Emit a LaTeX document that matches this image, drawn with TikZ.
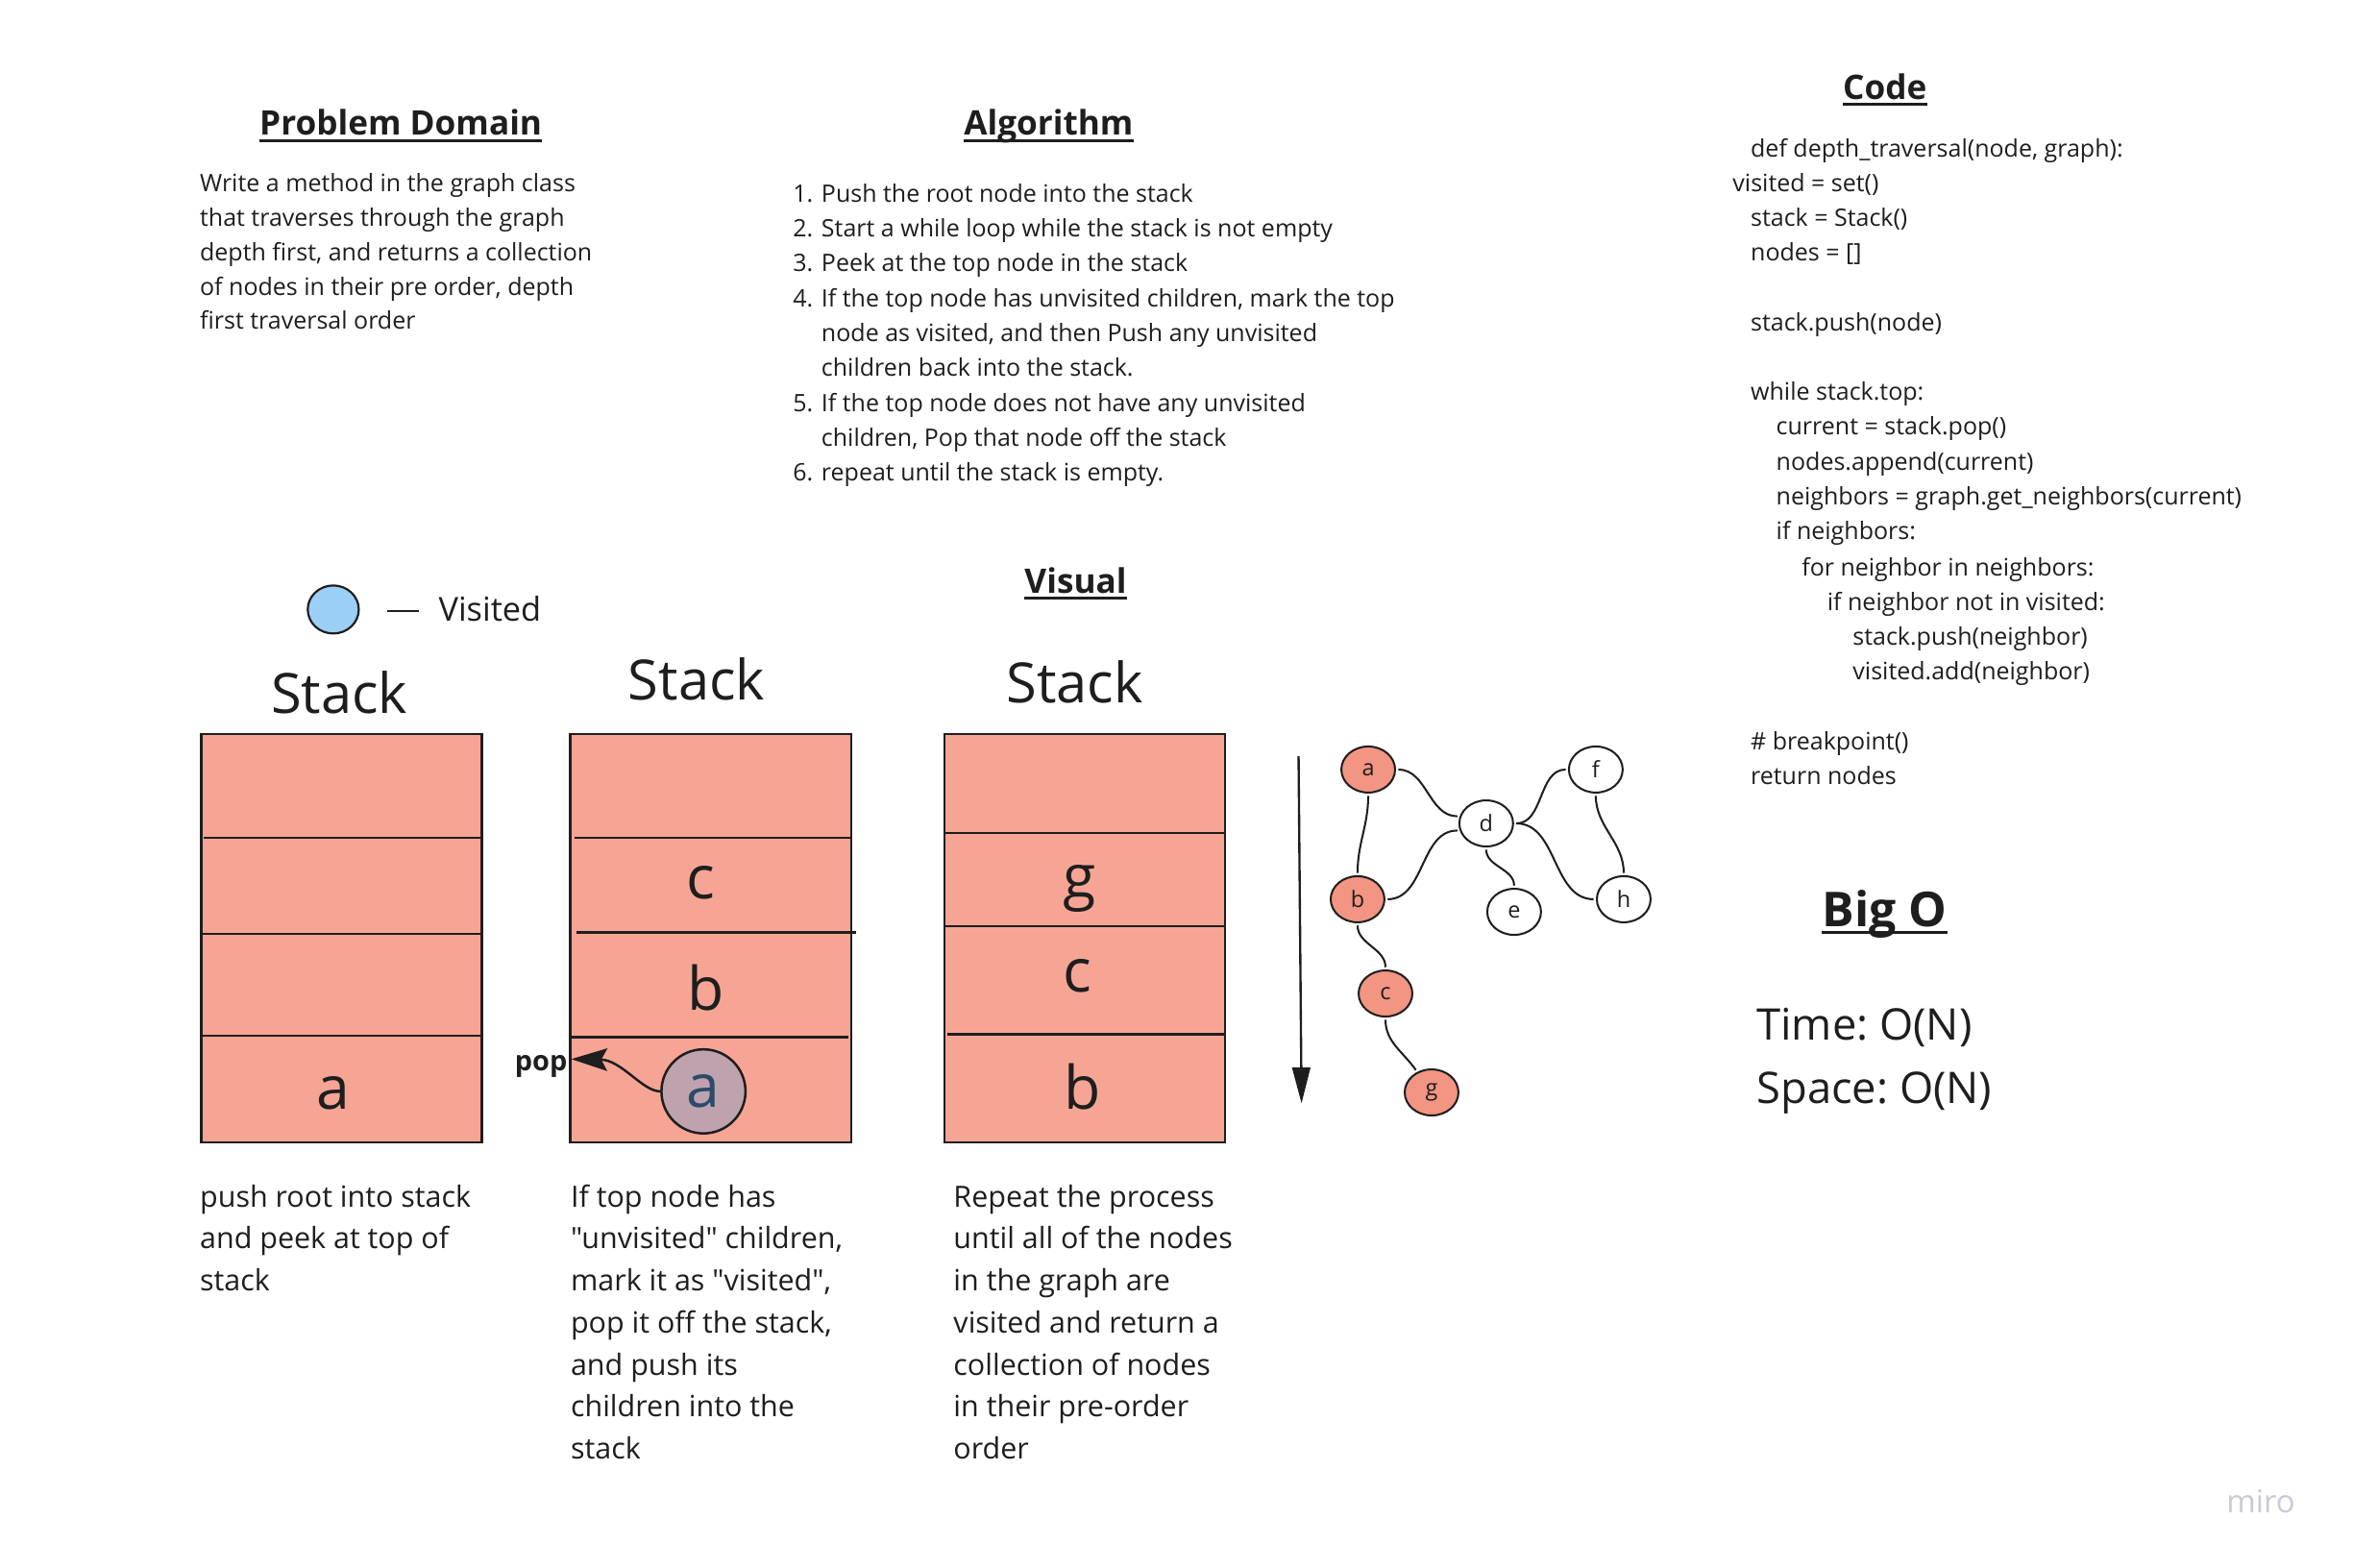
\documentclass[tikz,border=0pt]{standalone}
\usepackage{fontspec}
\setmainfont{Open Sans}[Ligatures=TeXOff]
\usetikzlibrary{arrows.meta,shapes.geometric}
\definecolor{stackfill}{HTML}{F6A595}
\definecolor{nodefill}{HTML}{F29582}
\definecolor{ink}{HTML}{1E1E1E}
\definecolor{visitfill}{HTML}{9CCFF5}
\definecolor{popfill}{HTML}{BEA3AF}
\definecolor{popink}{HTML}{2D4A68}
\definecolor{mirogray}{HTML}{C9CAD8}
\frenchspacing
\begin{document}
\begin{tikzpicture}[x=1pt,y=-1pt,
  body/.style={font=\fontsize{16}{19}\selectfont, anchor=base west, inner sep=0, text=ink},
  caption/.style={font=\fontsize{19.5}{23}\selectfont, anchor=base west, inner sep=0, text=ink},
  title/.style={font=\bfseries\fontsize{22.5}{27}\selectfont, anchor=base, inner sep=0, text=ink},
  uline/.style={draw=ink, line width=1.8},
  stacktitle/.style={font=\fontsize{37}{44}\selectfont, anchor=base, inner sep=0, text=ink},
  stackletter/.style={font=\fontsize{40}{48}\selectfont, anchor=base, inner sep=0, text=ink},
  stackbox/.style={draw=ink, fill=stackfill, line width=1.6, minimum width=187pt, minimum height=272pt, inner sep=0},
  divider/.style={draw=ink, line width=1.6},
  gnode/.style={ellipse, draw=ink, line width=1.3, minimum width=35.8pt, minimum height=30.7pt, inner sep=0, text=ink, font=\fontsize{15}{18}\selectfont},
  visited/.style={gnode, fill=nodefill},
  unvisited/.style={gnode, fill=white},
  gedge/.style={draw=ink, line width=1.3, shorten >=1.5pt, shorten <=1.5pt},
  bigtext/.style={font=\fontsize{29}{34}\selectfont, anchor=base west, inner sep=0, text=ink}
]
\useasboundingbox[fill=white] (0,0) rectangle (1567.4,1044.5);

% ---------- Titles ----------
\node[title] (tpd) at (267,90) {Problem Domain};
\draw[uline] ([yshift=-3.5pt]tpd.base west) -- ([yshift=-3.5pt]tpd.base east);
\node[title] (talg) at (698.5,90) {Algorithm};
\draw[uline] ([yshift=-3.5pt]talg.base west) -- ([yshift=-3.5pt]talg.base east);
\node[title] (tcode) at (1255.5,66) {Code};
\draw[uline] ([yshift=-3.5pt]tcode.base west) -- ([yshift=-3.5pt]tcode.base east);
\node[title] (tvis) at (716.5,395) {Visual};
\draw[uline] ([yshift=-3.5pt]tvis.base west) -- ([yshift=-3.5pt]tvis.base east);
\node[font=\bfseries\fontsize{32}{38}\selectfont, anchor=base, inner sep=0, text=ink] (tbig) at (1255.5,617) {Big O};
\draw[line width=2.2, draw=ink] ([yshift=-4pt]tbig.base west) -- ([yshift=-4pt]tbig.base east);

% ---------- Problem domain ----------
\foreach \t [count=\i] in {Write a method in the graph class, that traverses through the graph, {depth first, and returns a collection}, {of nodes in their pre order, depth}, first traversal order}
  \node[body] (pd\i) at (133,104.5+23*\i) {\t};

% ---------- Algorithm ----------
\foreach \n/\y in {1./134.5,2./157.5,3./180.5,4./204.5,5./274,6./320.5}
  \node[body] (an\y) at (528,\y) {\n};
\foreach \y/\t in {134.5/{Push the root node into the stack},
                   157.5/{Start a while loop while the stack is not empty},
                   180.5/{Peek at the top node in the stack},
                   204.5/{If the top node has unvisited children, mark the top},
                   227.5/{node as visited, and then Push any unvisited},
                   250.5/{children back into the stack.},
                   274/{If the top node does not have any unvisited},
                   297/{children, Pop that node off the stack},
                   320.5/{repeat until the stack is empty.}}
  \node[body] (al\y) at (547,\y) {\t};

% ---------- Code ----------
\foreach \x/\y/\t in {1166/104.5/{def depth\_traversal(node, graph):},
                      1154/127.5/{visited = set()},
                      1166/150.5/{stack = Stack()},
                      1166/173.5/{nodes = []},
                      1166/220.5/{stack.push(node)},
                      1166/266.5/{while stack.top:},
                      1183/289.5/{current = stack.pop()},
                      1183/313.5/{nodes.append(current)},
                      1183/336.5/{neighbors = graph.get\_neighbors(current)},
                      1183/359.5/{if neighbors:},
                      1200/383.5/{for neighbor in neighbors:},
                      1217/406.5/{if neighbor not in visited:},
                      1234/429.5/{stack.push(neighbor)},
                      1234/452.5/{visited.add(neighbor)},
                      1166/499.5/{\# breakpoint()},
                      1166/522.5/{return nodes}}
  \node[body] (cd\y) at (\x,\y) {\t};

% ---------- Big O ----------
\node[bigtext] (btime) at (1170,693) {Time: O(N)};
\node[bigtext] (bspace) at (1170,735) {Space: O(N)};

% ---------- Legend ----------
\node[ellipse, draw=ink, line width=1.4, fill=visitfill, minimum width=34pt, minimum height=32pt, inner sep=0] (leg) at (222,406) {};
\draw[draw=ink, line width=1.4] (258,407) -- (279,407);
\node[font=\fontsize{22}{26}\selectfont, anchor=base west, inner sep=0, text=ink] (legt) at (292,414) {Visited};

% ---------- Stack 1 ----------
\node[stacktitle] (st1) at (226,475) {Stack};
\node[stackbox] (s1) at (227.5,625) {};
\draw[divider] (136,558) -- (322,558);
\draw[divider] (134,622) -- (321,622);
\draw[divider] (134,690) -- (320,690);
\node[stackletter] (s1a) at (222,739) {a};

% ---------- Stack 2 ----------
\node[stacktitle] (st2) at (464,466) {Stack};
\node[stackbox] (s2) at (473.5,625) {};
\draw[divider] (383,558) -- (567,558);
\draw[divider] (384,621) -- (570,621);
\draw[divider] (380,691) -- (565,691);
\node[stackletter] (s2c) at (467,599) {c};
\node[stackletter] (s2b) at (470,673) {b};
\node[circle, draw=ink, line width=1.6, fill=popfill, minimum size=56pt, inner sep=0, text=popink, font=\fontsize{40}{48}\selectfont] (s2a) at (468.6,727) {a};
\node[font=\bfseries\fontsize{18.5}{22}\selectfont, anchor=base east, inner sep=0, text=ink] (pop) at (378,713.6) {pop};
\coordinate (poptip) at (380.5,705.5);
\draw[draw=ink, line width=1.6, -{Stealth[length=24pt,width=15pt,inset=4pt]}]
  (s2a.west) .. controls (428,727) and (414,706) .. (poptip);

% ---------- Stack 3 ----------
\node[stacktitle] (st3) at (716,468) {Stack};
\node[stackbox] (s3) at (722.5,625) {};
\draw[divider] (629,555) -- (816,555);
\draw[divider] (629,617) -- (816,617);
\draw[divider] (631,689) -- (816,689);
\node[stackletter] (s3g) at (719,598) {g};
\node[stackletter] (s3c) at (718,661) {c};
\node[stackletter] (s3b) at (721,739) {b};

% ---------- Captions ----------
\foreach \t [count=\i] in {push root into stack, and peek at top of, stack}
  \node[caption] (cap1\i) at (133,776+28*\i) {\t};
\foreach \t [count=\i] in {If top node has, {"unvisited" children,}, {mark it as "visited",}, {pop it off the stack,}, and push its, children into the, stack}
  \node[caption] (cap2\i) at (380,776+28*\i) {\t};
\foreach \t [count=\i] in {Repeat the process, until all of the nodes, in the graph are, visited and return a, collection of nodes, in their pre-order, order}
  \node[caption] (cap3\i) at (635,776+28*\i) {\t};

% ---------- Graph ----------
\coordinate (arrtop) at (865,503.7);
\coordinate (arrbot) at (867,735);
\draw[draw=ink, line width=1.5, -{Triangle[length=24pt,width=12pt]}] (arrtop) -- (arrbot);

\node[visited] (ga) at (911.4,512.6) {a};
\node[unvisited] (gd) at (990,548.5) {d};
\node[unvisited] (gf) at (1063,512.6) {f};
\node[visited] (gb) at (904.3,599) {b};
\node[unvisited] (ge) at (1008.6,607.4) {e};
\node[unvisited] (gh) at (1081.6,599) {h};
\node[visited] (gc) at (922.9,661.8) {c};
\node[visited] (gg) at (953.6,727.7) {g};

\draw[gedge] (ga.east) to[out=0,in=180] (gd.165);
\draw[gedge] (gb.east) to[out=0,in=180] (gd.195);
\draw[gedge] (ga.south) to[out=-90,in=90] (gb.north);
\draw[gedge] (gd.east) to[out=0,in=180] (gf.west);
\draw[gedge] (gd.east) to[out=0,in=180] (gh.west);
\draw[gedge] (gf.south) to[out=-90,in=90] (gh.north);
\draw[gedge] (gd.south) to[out=-90,in=90] (ge.north);
\draw[gedge] (gb.south) to[out=-90,in=90] (gc.north);
\draw[gedge] (gc.south) to[out=-90,in=125] (gg.125);

% ---------- watermark ----------
\node[font=\fontsize{21}{24}\selectfont, text=mirogray, inner sep=0] (miro) at (1506,1000) {miro};
\end{tikzpicture}
\end{document}
